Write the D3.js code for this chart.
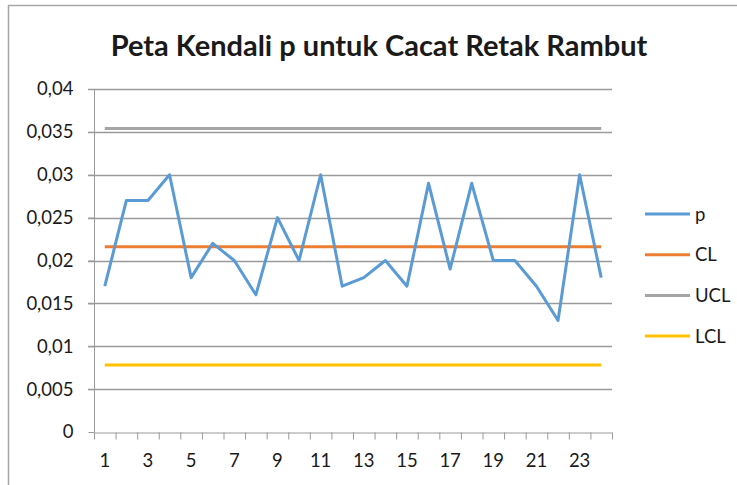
<!DOCTYPE html>
<html>
<head>
<meta charset="utf-8">
<script src="https://cdn.jsdelivr.net/npm/d3@7"></script>
<style>
  body { margin: 0; background: #fff; }
  text { font-family: Lato, "Open Sans", sans-serif; fill: #1a1a1a; }
</style>
</head>
<body>
<script>
// sample number 1..24
const samples = d3.range(1, 25);
// proportion defective per sample
const pValues = [
  0.017, 0.027, 0.027, 0.03, 0.018, 0.022, 0.02, 0.016, 0.025, 0.02, 0.03, 0.017,
  0.018, 0.02, 0.017, 0.029, 0.019, 0.029, 0.02, 0.02, 0.017, 0.013, 0.03, 0.018,
];
// control limits (constant over all samples)
const CL = 0.0216;
const UCL = 0.0354;
const LCL = 0.0078;
const yTicks = [0, 0.005, 0.01, 0.015, 0.02, 0.025, 0.03, 0.035, 0.04];
const xTickLabels = samples.filter((d) => d % 2 === 1);

const series = [
  { name: "p", color: "#5b9bd5", values: pValues },
  { name: "CL", color: "#ed7d31", values: samples.map(() => CL) },
  { name: "UCL", color: "#a5a5a5", values: samples.map(() => UCL) },
  { name: "LCL", color: "#ffc000", values: samples.map(() => LCL) },
];

const w = 737;
const h = 485;

const svg = d3.select("body").append("svg").attr("width", w).attr("height", h);

// chart area border (cropped at right/bottom in the original)
svg
  .append("rect")
  .attr("x", 8.5)
  .attr("y", 5.5)
  .attr("width", 900)
  .attr("height", 900)
  .attr("fill", "none")
  .attr("stroke", "#a6a6a6")
  .attr("stroke-width", 1.5);

const xScale = d3.scaleBand().domain(samples).range([94, 612]);
const yScale = d3.scaleLinear().domain([0, 0.04]).range([432, 89]);
const cx = (d) => xScale(d) + xScale.bandwidth() / 2;

const fmt = (d) => (d === 0 ? "0" : String(d).replace(".", ","));

// gridlines
svg
  .append("g")
  .selectAll("line")
  .data(yTicks.filter((d) => d > 0))
  .enter()
  .append("line")
  .attr("x1", 88)
  .attr("x2", 612)
  .attr("y1", (d) => Math.round(yScale(d)) + 0.5)
  .attr("y2", (d) => Math.round(yScale(d)) + 0.5)
  .attr("stroke", "#9a9a9a")
  .attr("stroke-width", 1.3);

// y axis
const yAxis = d3
  .axisLeft(yScale)
  .tickValues(yTicks)
  .tickFormat(fmt)
  .tickSize(6)
  .tickPadding(15);
const gy = svg.append("g").attr("transform", "translate(94.5,0)").call(yAxis);
gy.select(".domain").attr("stroke", "#9a9a9a").attr("d", "M0,89V432");
gy.selectAll(".tick line").attr("stroke", "#9a9a9a");
gy.selectAll(".tick text")
  .attr("font-size", 18.5)
  .attr("font-family", "Lato, sans-serif")
  .attr("fill", "#1a1a1a");

// x axis
const xAxis = d3
  .axisBottom(d3.scaleLinear().domain([0, 24]).range([94, 612]))
  .tickValues(d3.range(0, 25))
  .tickFormat("")
  .tickSize(7)
  .tickSizeOuter(0);
const gx = svg.append("g").attr("transform", "translate(0,432.5)").call(xAxis);
gx.select(".domain").attr("stroke", "#9a9a9a");
gx.selectAll(".tick line").attr("stroke", "#9a9a9a");

svg
  .append("g")
  .selectAll("text")
  .data(xTickLabels)
  .enter()
  .append("text")
  .attr("x", (d) => cx(d))
  .attr("y", 467)
  .attr("text-anchor", "middle")
  .attr("font-size", 18.5)
  .text((d) => d);

// series lines
const line = d3
  .line()
  .x((d, i) => cx(samples[i]))
  .y((d) => yScale(d));

svg
  .append("g")
  .selectAll("path")
  .data(series.slice().reverse())
  .enter()
  .append("path")
  .attr("d", (s) => line(s.values))
  .attr("fill", "none")
  .attr("stroke", (s) => s.color)
  .attr("stroke-width", 3)
  .attr("stroke-linejoin", "round");

// legend
const legend = svg
  .append("g")
  .selectAll("g")
  .data(series)
  .enter()
  .append("g")
  .attr("transform", (d, i) => `translate(645, ${214 + i * 40.7})`);
legend
  .append("line")
  .attr("x1", 0)
  .attr("x2", 45)
  .attr("stroke", (d) => d.color)
  .attr("stroke-width", 3);
legend
  .append("text")
  .attr("x", 50)
  .attr("y", 6.5)
  .attr("font-size", 18.5)
  .text((d) => d.name);

// title
svg
  .append("text")
  .attr("x", 379)
  .attr("y", 56)
  .attr("text-anchor", "middle")
  .attr("font-size", 29)
  .attr("font-weight", "bold")
  .attr("fill", "#000")
  .text("Peta Kendali p untuk Cacat Retak Rambut");
</script>
</body>
</html>
